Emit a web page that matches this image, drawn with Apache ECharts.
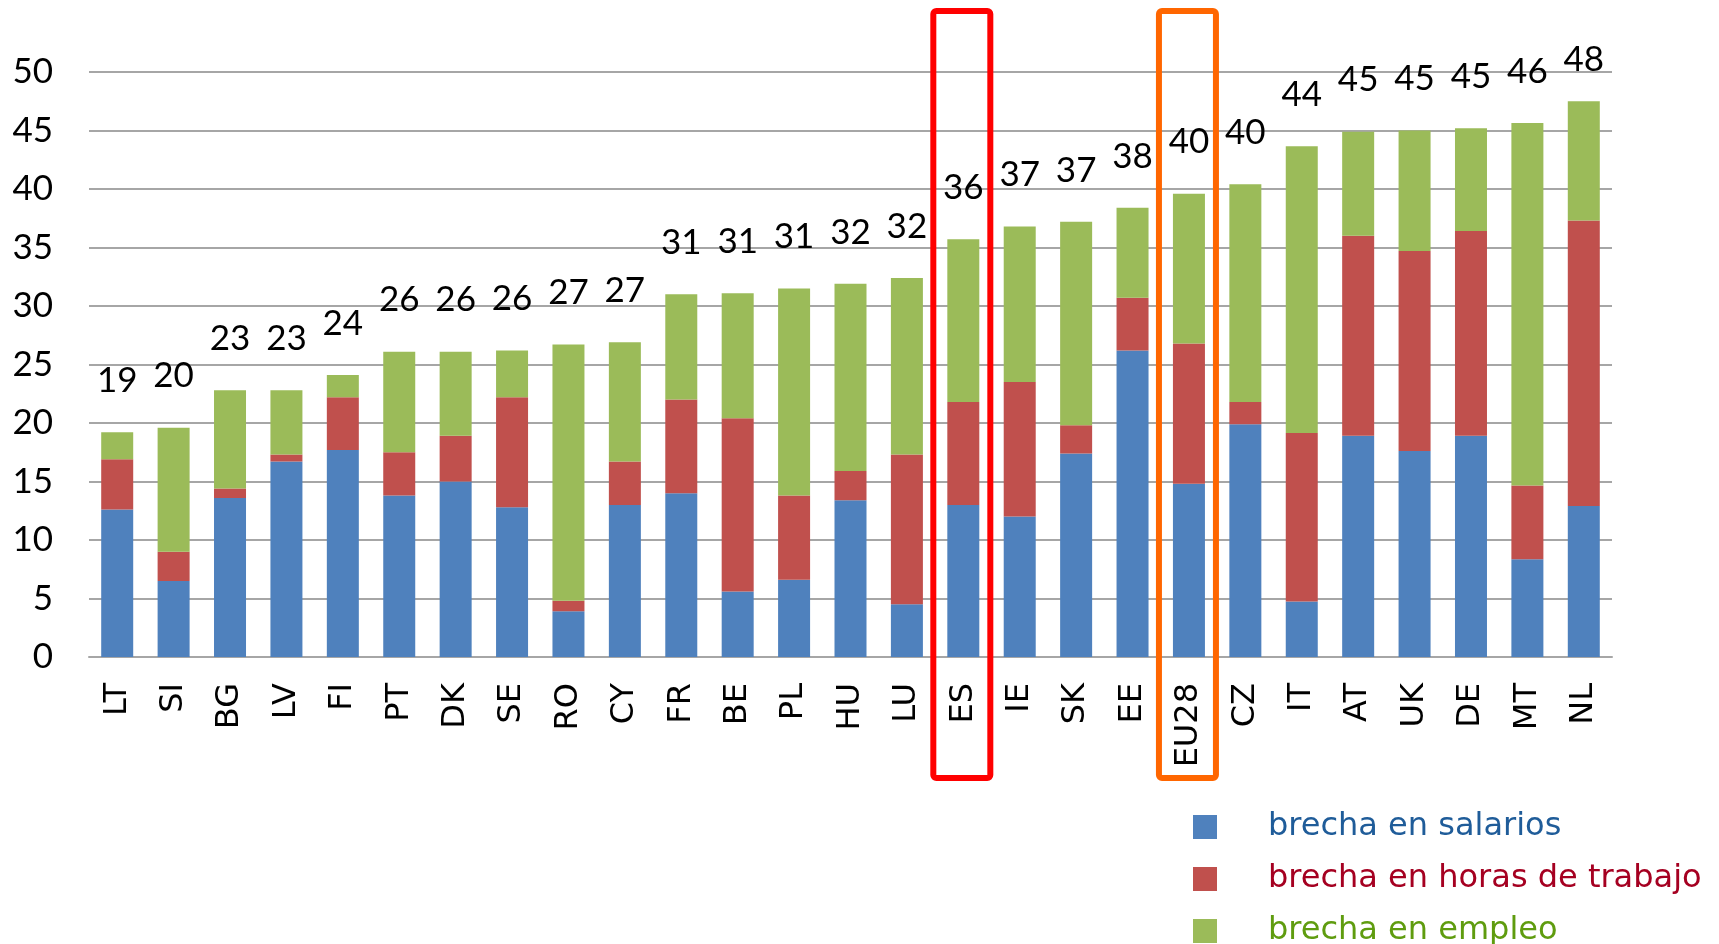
<!DOCTYPE html>
<html>
<head>
<meta charset="utf-8">
<title>Brecha de género</title>
<script src="https://cdn.jsdelivr.net/npm/echarts@6/dist/echarts.min.js"></script>
<style>
  html, body { margin: 0; padding: 0; background: #fff; }
  #chart { width: 1719px; height: 944px; }
</style>
</head>
<body>
<div id="chart"></div>
<script>
// países (orden del gráfico original)
const countries = ['LT', 'SI', 'BG', 'LV', 'FI', 'PT', 'DK', 'SE', 'RO', 'CY', 'FR', 'BE', 'PL', 'HU', 'LU',
  'ES', 'IE', 'SK', 'EE', 'EU28', 'CZ', 'IT', 'AT', 'UK', 'DE', 'MT', 'NL'];

// brecha en salarios
const salarios = [12.6, 6.5, 13.6, 16.7, 17.7, 13.8, 15.0, 12.8, 3.9, 13.0, 14.0, 5.6, 6.6, 13.4, 4.5,
  13.0, 12.0, 17.4, 26.2, 14.8, 19.9, 4.75, 18.9, 17.6, 18.9, 8.35, 12.9];
// brecha en horas de trabajo
const horas = [4.3, 2.5, 0.8, 0.6, 4.5, 3.7, 3.9, 9.4, 0.9, 3.7, 8.0, 14.8, 7.2, 2.5, 12.8,
  8.8, 11.5, 2.4, 4.5, 12.0, 1.9, 14.4, 17.1, 17.1, 17.5, 6.3, 24.4];
// brecha en empleo
const empleo = [2.3, 10.6, 8.4, 5.5, 1.9, 8.6, 7.2, 4.0, 21.9, 10.2, 9.0, 10.7, 17.7, 16.0, 15.1,
  13.9, 13.3, 17.4, 7.7, 12.8, 18.6, 24.5, 8.9, 10.3, 8.8, 31.0, 10.2];
// total redondeado escrito sobre cada barra
const totales = [19, 20, 23, 23, 24, 26, 26, 26, 27, 27, 31, 31, 31, 32, 32,
  36, 37, 37, 38, 40, 40, 44, 45, 45, 45, 46, 48];

const yTicks = { min: 0, max: 50, interval: 5 };
const seriesNames = ['brecha en salarios', 'brecha en horas de trabajo', 'brecha en empleo'];
// columnas resaltadas con un recuadro
const resaltados = [['ES', '#ff0000'], ['EU28', '#ff6600']];

const chart = echarts.init(document.getElementById('chart'));

const numFont = 'Lato, "Liberation Sans", sans-serif';

const option = {
  animation: false,
  color: ['#4f81bd', '#c0504d', '#9bbb59'],
  grid: { left: 89, right: 107, top: 72, bottom: 287 },
  legend: {
    orient: 'vertical',
    left: 1193,
    top: 811,
    // alto fijo: si no, la leyenda no cabe abajo y pasa el último a otra columna
    height: 200,
    padding: 0,
    icon: 'rect',
    itemWidth: 24,
    itemHeight: 24,
    itemGap: 20,
    selectedMode: false,
    textStyle: { fontFamily: 'DejaVu Sans', fontSize: 32, padding: [0, 0, 0, 46] },
    data: [
      { name: seriesNames[0], textStyle: { color: '#1f5c99' } },
      { name: seriesNames[1], textStyle: { color: '#a50021' } },
      { name: seriesNames[2], textStyle: { color: '#5f9c0f' } },
    ],
  },
  xAxis: {
    type: 'category',
    data: countries,
    axisTick: { show: false },
    axisLine: { lineStyle: { color: '#a6a6a6', width: 2 } },
    axisLabel: {
      rotate: 90,
      margin: 26,
      interval: 0,
      color: '#000',
      fontFamily: 'DejaVu Sans',
      fontSize: 32,
    },
  },
  yAxis: {
    type: 'value',
    min: yTicks.min,
    max: yTicks.max,
    interval: yTicks.interval,
    axisLine: { show: false },
    axisTick: { show: false },
    splitLine: { lineStyle: { color: '#a6a6a6', width: 2 } },
    axisLabel: { margin: 36, color: '#000', fontFamily: numFont, fontSize: 35 },
  },
  series: [
    { name: seriesNames[0], type: 'bar', stack: 'total', barWidth: 32, data: salarios },
    { name: seriesNames[1], type: 'bar', stack: 'total', barWidth: 32, data: horas },
    {
      name: seriesNames[2],
      type: 'bar',
      stack: 'total',
      barWidth: 32,
      data: empleo.map((v, i) => {
        const item = { value: v };
        // NL: la etiqueta queda más pegada a la barra en el original
        if (countries[i] === 'NL') item.label = { distance: 24 };
        return item;
      }),
      label: {
        show: true,
        position: 'top',
        distance: 34,
        color: '#000',
        fontFamily: numFont,
        fontSize: 35,
        formatter: p => totales[p.dataIndex],
      },
    },
  ],
};

chart.setOption(option);

// recuadros alrededor de ES y EU28
const graphics = resaltados.map(([name, color]) => {
  const cx = chart.convertToPixel({ xAxisIndex: 0 }, name);
  return {
    type: 'rect',
    z: 100,
    shape: { x: cx - 30, y: 11, width: 57, height: 767, r: 3 },
    style: { fill: 'none', stroke: color, lineWidth: 6 },
  };
});
chart.setOption({ graphic: graphics });
</script>
</body>
</html>
